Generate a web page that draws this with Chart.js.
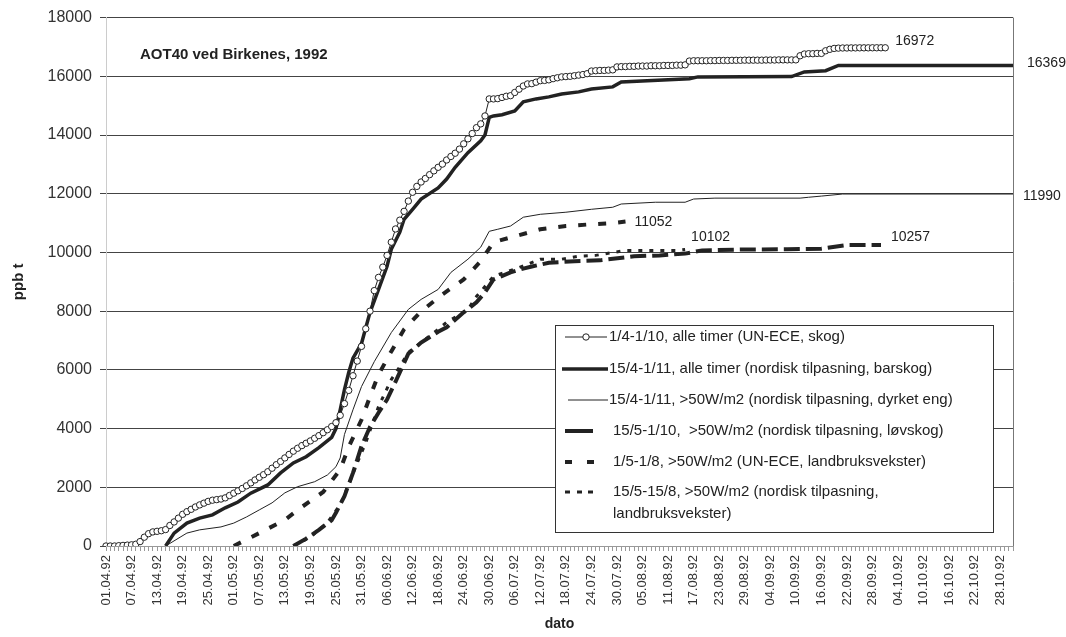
<!DOCTYPE html>
<html>
<meta charset="UTF-8">
<title>AOT40 ved Birkenes, 1992</title>
<style type="text/css">
	html,
	body {
		margin: 0px;
		padding: 0px;
		background: #fff;
	}

	.container {
		width: 1066px;
		height: 637px;
		position: relative;
	}
</style>
<script src="https://cdn.jsdelivr.net/npm/chart.js"></script>

<body>

	<div class="container"><canvas id="myCanvas"></canvas></div>

	<script>

		// day labels 01.04.92 .. 31.10.92
		var dayCount = 214;
		var dateLabels = [];
		for (var i = 0; i < dayCount; i++) {
			var d = new Date(1992, 3, 1 + i);
			var dd = ('0' + d.getDate()).slice(-2);
			var mm = ('0' + (d.getMonth() + 1)).slice(-2);
			dateLabels.push(dd + '.' + mm + '.92');
		}

		var yTicks = [0, 2000, 4000, 6000, 8000, 10000, 12000, 14000, 16000, 18000];

		var seriesNames = [
			'1/4-1/10, alle timer (UN-ECE, skog)',
			'15/4-1/11, alle timer (nordisk tilpasning, barskog)',
			'15/4-1/11, >50W/m2 (nordisk tilpasning, dyrket eng)',
			'15/5-1/10,  >50W/m2 (nordisk tilpasning, løvskog)',
			'1/5-1/8, >50W/m2 (UN-ECE, landbruksvekster)',
			'15/5-15/8, >50W/m2 (nordisk tilpasning,|landbruksvekster)'
		];

		// 1/4-1/10, daily from 01.04
		var s1Vals = [
			0, 0, 0, 10, 20, 30, 40, 60, 150, 300,
			420, 480, 500, 520, 560, 700, 820, 950, 1080, 1170,
			1250, 1330, 1400, 1460, 1520, 1560, 1580, 1600, 1640, 1720,
			1800, 1880, 1960, 2050, 2150, 2250, 2340, 2430, 2530, 2650,
			2770, 2880, 3000, 3120, 3230, 3330, 3420, 3500, 3580, 3670,
			3760, 3860, 3960, 4070, 4200, 4450, 4850, 5300, 5800, 6300,
			6800, 7400, 8000, 8700, 9150, 9500, 9900, 10350, 10800, 11100,
			11400, 11750, 12050, 12250, 12400, 12520, 12650, 12780, 12900, 13010,
			13150, 13270, 13380, 13520, 13700, 13870, 14050, 14250, 14380, 14650,
			15230, 15230, 15240, 15280, 15320, 15340, 15450, 15560, 15670, 15740,
			15750, 15800, 15850, 15860, 15880, 15920, 15950, 15980, 15990, 16000,
			16020, 16040, 16060, 16090, 16180, 16190, 16200, 16200, 16210, 16220,
			16320, 16330, 16330, 16340, 16340, 16350, 16350, 16350, 16360, 16360,
			16360, 16370, 16370, 16370, 16380, 16380, 16390, 16520, 16530, 16530,
			16530, 16530, 16535, 16535, 16540, 16540, 16540, 16545, 16545, 16545,
			16550, 16550, 16550, 16550, 16550, 16555, 16555, 16555, 16560, 16560,
			16560, 16560, 16560, 16700, 16760, 16770, 16770, 16780, 16780, 16870,
			16920, 16950, 16960, 16965, 16965, 16968, 16968, 16970, 16970, 16970,
			16972, 16972, 16972, 16972
		];

		// 15/4-1/11, alle timer
		var s2Days = [14, 16, 19, 22, 25, 28, 31, 34, 38, 41, 44, 47, 50, 53, 54, 55, 56, 57, 58, 60,
			62, 64, 66, 67, 69, 70, 72, 74, 78, 80, 82, 85, 88, 89, 90, 91, 93, 96, 98, 101,
			104, 107, 111, 114, 119, 121, 137, 139, 161, 164, 169, 172, 213];
		var s2Vals = [0, 440, 780, 950, 1060, 1300, 1500, 1800, 2080, 2490, 2830, 3040, 3350, 3700, 4000, 4640, 5330, 5910, 6400, 6900,
			7960, 8740, 9530, 10110, 10690, 11130, 11470, 11820, 12200, 12500, 12900, 13400, 13800, 14000, 14600, 14650, 14690, 14820, 15130, 15230,
			15300, 15400, 15470, 15570, 15640, 15810, 15920, 15980, 15990, 16150, 16190, 16369, 16369];

		// 15/4-1/11, >50W/m2
		var s3Days = [14, 19, 22, 27, 30, 33, 36, 39, 42, 45, 49, 52, 54, 55, 56, 58, 60, 63, 67, 71,
			74, 78, 81, 85, 88, 90, 92, 95, 98, 102, 108, 114, 119, 121, 129, 136, 138, 143, 163, 165,
			168, 173, 213];
		var s3Vals = [0, 440, 550, 650, 780, 990, 1230, 1470, 1810, 2020, 2190, 2420, 2700, 3000, 3800, 4640, 5430, 6280, 7270, 8060,
			8400, 8740, 9320, 9770, 10180, 10720, 10790, 10900, 11200, 11300, 11370, 11470, 11540, 11650, 11710, 11710, 11820, 11850, 11850, 11880,
			11920, 11990, 11990];

		// 15/5-1/10, >50W/m2
		var s4Days = [44, 47, 50, 53, 54, 56, 58, 59, 60, 62, 64, 66, 68, 71, 74, 78, 80, 84, 87, 89,
			91, 95, 98, 100, 104, 110, 116, 124, 130, 136, 140, 150, 160, 168, 174, 182];
		var s4Vals = [0, 250, 550, 880, 1130, 1700, 2490, 2940, 3400, 4060, 4540, 4990, 5600, 6550, 6930, 7300, 7450, 7960, 8300, 8640,
			9080, 9320, 9450, 9520, 9650, 9700, 9730, 9870, 9900, 9960, 10070, 10100, 10110, 10130, 10250, 10257];

		// 1/5-1/8, >50W/m2
		var s5Days = [30, 36, 42, 46, 51, 55, 57, 60, 62, 64, 67, 70, 74, 79, 84, 88, 91, 96, 102, 108,
			114, 119, 122];
		var s5Vals = [0, 440, 890, 1330, 1840, 2600, 3380, 4300, 5090, 5840, 6630, 7380, 7990, 8570, 9080, 9700, 10350, 10550, 10790, 10900,
			10960, 11000, 11052];

		// 15/5-15/8, >50W/m2
		var s6Days = [44, 48, 52, 55, 57, 59, 61, 64, 67, 69, 71, 74, 78, 80, 85, 87, 89, 91, 96, 99,
			102, 107, 111, 115, 122, 134, 136];
		var s6Vals = [0, 300, 800, 1400, 2100, 2830, 3520, 4750, 5670, 6110, 6590, 6930, 7380, 7620, 8060, 8500, 8840, 9190, 9430, 9600,
			9770, 9770, 9870, 9900, 10070, 10070, 10102];

		var endLabels = ['16972', '16369', '11990', '10257', '11052', '10102'];

		function toPoints(days, vals) {
			return days.map(function (d, i) { return { x: dateLabels[d], y: vals[i] }; });
		}

		var ink = '#222';
		var fontFam = '"Liberation Sans", Arial, Helvetica, sans-serif';

		var datasets = [
			{
				label: seriesNames[0],
				data: s1Vals,
				borderColor: ink, borderWidth: 1,
				pointRadius: 3.2, pointBackgroundColor: '#fff', pointBorderColor: ink, pointBorderWidth: 1
			},
			{
				label: seriesNames[1],
				data: toPoints(s2Days, s2Vals),
				borderColor: ink, borderWidth: 3.5, pointRadius: 0
			},
			{
				label: seriesNames[2],
				data: toPoints(s3Days, s3Vals),
				borderColor: ink, borderWidth: 1, pointRadius: 0
			},
			{
				label: seriesNames[3],
				data: toPoints(s4Days, s4Vals),
				borderColor: ink, borderWidth: 4, borderDash: [16, 6], pointRadius: 0
			},
			{
				label: seriesNames[4],
				data: toPoints(s5Days, s5Vals),
				borderColor: ink, borderWidth: 4, borderDash: [8, 12], pointRadius: 0
			},
			{
				label: seriesNames[5],
				data: toPoints(s6Days, s6Vals),
				borderColor: ink, borderWidth: 3, borderDash: [4, 7], pointRadius: 0
			}
		];

		// text + frame extras
		var extrasPlugin = {
			id: 'extras',
			afterDatasetsDraw: function (chart) {
				var ctx = chart.ctx;
				var ca = chart.chartArea;
				ctx.save();
				// right frame line
				ctx.strokeStyle = '#777';
				ctx.lineWidth = 1;
				ctx.beginPath();
				ctx.moveTo(ca.right + 0.5, ca.top);
				ctx.lineTo(ca.right + 0.5, ca.bottom);
				ctx.stroke();

				// title in plot
				ctx.fillStyle = ink;
				ctx.font = 'bold 15px ' + fontFam;
				ctx.textBaseline = 'middle';
				ctx.textAlign = 'left';
				ctx.fillText('AOT40 ved Birkenes, 1992', ca.left + 34, 55);

				// end value labels
				var offs = [[10, -7], [14, -2], [10, 2], [10, -8], [9, 1], [6, -12]];
				ctx.font = '14px ' + fontFam;
				for (var i = 0; i < endLabels.length; i++) {
					var meta = chart.getDatasetMeta(i);
					var last = meta.data[meta.data.length - 1];
					ctx.fillText(endLabels[i], last.x + offs[i][0], last.y + offs[i][1]);
				}
				ctx.restore();
			},
			afterDraw: function (chart) {
				var ctx = chart.ctx;
				ctx.save();
				var bx = 555, by = 325, bw = 438, bh = 207;
				ctx.fillStyle = '#fff';
				ctx.fillRect(bx, by, bw, bh);
				ctx.strokeStyle = '#333';
				ctx.lineWidth = 1;
				ctx.strokeRect(bx + 0.5, by + 0.5, bw, bh);

				var rows = [337, 369, 400, 431, 462, 492];
				ctx.fillStyle = ink;
				ctx.font = '15px ' + fontFam;
				ctx.textBaseline = 'middle';
				ctx.textAlign = 'left';
				ctx.strokeStyle = ink;
				ctx.lineCap = 'butt';
				for (var i = 0; i < rows.length; i++) {
					var y = rows[i];
					var ds = datasets[i];
					ctx.lineWidth = ds.borderWidth;
					ctx.setLineDash([]);
					ctx.beginPath();
					if (i === 0) {
						ctx.moveTo(565, y); ctx.lineTo(607, y); ctx.stroke();
						ctx.beginPath(); ctx.fillStyle = '#fff';
						ctx.arc(586, y, 3.2, 0, Math.PI * 2); ctx.fill(); ctx.stroke();
						ctx.fillStyle = ink;
					} else if (i === 1) {
						ctx.moveTo(562, y); ctx.lineTo(608, y); ctx.stroke();
					} else if (i === 2) {
						ctx.moveTo(568, y); ctx.lineTo(608, y); ctx.stroke();
					} else if (i === 3) {
						ctx.moveTo(565, y); ctx.lineTo(593, y); ctx.stroke();
					} else if (i === 4) {
						ctx.moveTo(565, y); ctx.lineTo(572, y);
						ctx.moveTo(587, y); ctx.lineTo(594, y); ctx.stroke();
					} else {
						ctx.moveTo(565, y); ctx.lineTo(570, y);
						ctx.moveTo(577, y); ctx.lineTo(582, y);
						ctx.moveTo(588, y); ctx.lineTo(593, y); ctx.stroke();
					}
					var tx = i < 3 ? 609 : 613;
					var parts = ds.label.split('|');
					for (var p = 0; p < parts.length; p++) {
						ctx.fillText(parts[p], tx, y + p * 22);
					}
				}
				ctx.restore();
			}
		};

		var config = {
			type: 'line',
			data: {
				labels: dateLabels,
				datasets: datasets
			},
			options: {
				responsive: true,
				maintainAspectRatio: false,
				animation: false,
				layout: { padding: { left: 6, right: 53, top: 13, bottom: 0 } },
				elements: { line: { tension: 0, borderCapStyle: 'butt' } },
				plugins: {
					legend: { display: false },
					tooltip: { enabled: false }
				},
				scales: {
					x: {
						type: 'category',
						offset: false,
						afterFit: function (scale) { scale.height = 91; },
						grid: {
							drawOnChartArea: false,
							drawTicks: true,
							tickLength: 5,
							color: '#999'
						},
						border: { color: '#999' },
						ticks: {
							autoSkip: false,
							minRotation: 90,
							maxRotation: 90,
							padding: 4,
							color: '#333',
							font: { size: 13, family: fontFam },
							callback: function (val, idx) {
								return idx % 6 === 0 ? dateLabels[idx] : '';
							}
						},
						title: {
							display: true,
							text: 'dato',
							color: ink,
							padding: { top: 4, bottom: 4 },
							font: { size: 14, weight: 'bold', family: fontFam }
						}
					},
					y: {
						min: 0,
						max: 18000,
						afterFit: function (scale) { scale.width = 100; },
						afterBuildTicks: function (scale) {
							scale.ticks = yTicks.map(function (v) { return { value: v }; });
						},
						grid: {
							color: '#444',
							lineWidth: 1,
							tickLength: 6
						},
						border: { color: '#ccc' },
						ticks: {
							padding: 8,
							color: '#333',
							font: { size: 16, family: fontFam },
							callback: function (v) { return String(v); }
						},
						title: {
							display: true,
							text: 'ppb t',
							color: ink,
							padding: { top: 4, bottom: 4 },
							font: { size: 15, weight: 'bold', family: fontFam }
						}
					}
				}
			},
			plugins: [extrasPlugin]
		};

		var myChart = new Chart(document.getElementById('myCanvas'), config);

	</script>
</body>

</html>
